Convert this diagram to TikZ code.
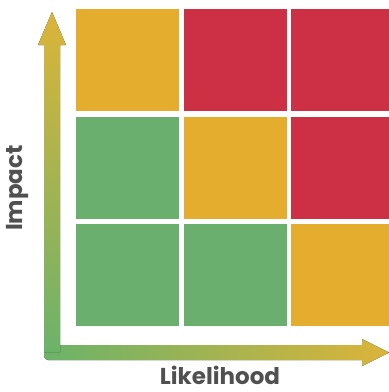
\documentclass[tikz,border=0pt]{standalone}
\usepackage{fontspec}
\setmainfont{Poppins}
\begin{document}
\definecolor{riskred}{HTML}{CD2F45}
\definecolor{riskamber}{HTML}{E4AD2E}
\definecolor{riskgreen}{HTML}{6BAF6E}
\definecolor{axisgreen}{HTML}{6BB36A}
\definecolor{axisgold}{HTML}{DCB439}
\definecolor{labelgray}{HTML}{505050}
\begin{tikzpicture}[x=1pt,y=-1pt,
  cell/.style={inner sep=0pt,outer sep=0pt,minimum width=103pt,minimum height=102pt,anchor=north west},
  axislabel/.style={text=labelgray,font=\bfseries\fontsize{23}{23}\selectfont,inner sep=0pt}]
\useasboundingbox (0,0) rectangle (389,392);
\begin{scope}
\clip (0,0) rectangle (389,392);
% risk grid, top row first
\node[cell,fill=riskamber] (c11) at (76,9) {};
\node[cell,fill=riskred]   (c12) at (184,9) {};
\node[cell,fill=riskred]   (c13) at (291,9) {};
\node[cell,fill=riskgreen] (c21) at (76,116.5) {};
\node[cell,fill=riskamber] (c22) at (184,116.5) {};
\node[cell,fill=riskred]   (c23) at (291,116.5) {};
\node[cell,fill=riskgreen] (c31) at (76,224) {};
\node[cell,fill=riskgreen] (c32) at (184,224) {};
\node[cell,fill=riskamber] (c33) at (291,224) {};
% axes: an L-shaped arrow shaded from the corner outwards
\coordinate (ytip) at (52,12);
\coordinate (xtip) at (389,352.5);
\fill[left color=axisgreen,right color=axisgold]
  (44,345) -- (44,356) to[out=-90,in=180] (48,360) -- (362,360) -- (362,366)
  -- (xtip) -- (362,339) -- (362,345) -- cycle;
\fill[bottom color=axisgreen,top color=axisgold]
  (44,352) -- (44,45) -- (38,45) -- (ytip) -- (66,45) -- (60,45) -- (60,352) -- cycle;
\end{scope}
\node[axislabel,rotate=90] (impact) at (17,188) {Impact};
\node[axislabel,anchor=base] (likelihood) at (220,384) {Likelihood};
\end{tikzpicture}
\end{document}
